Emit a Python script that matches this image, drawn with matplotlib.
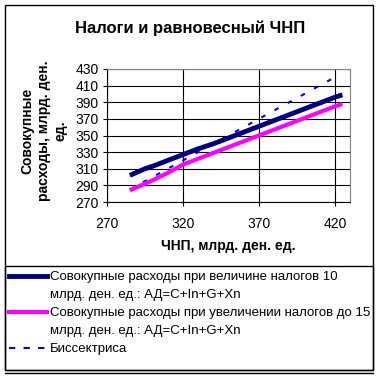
import matplotlib.pyplot as plt
from matplotlib.lines import Line2D
from matplotlib.patches import Rectangle

plt.rcParams['font.family'] = ['Liberation Sans', 'DejaVu Sans']

# data
x_t10 = [285, 290, 295, 300, 310, 320, 330, 340, 350, 360, 370, 380, 390, 400, 410, 420, 425]
y_t10 = [302, 306, 310, 313, 320, 327, 334, 340, 347, 354, 361, 368, 375, 382, 389, 396, 399]
x_t15 = [285, 290, 300, 310, 320, 330, 340, 350, 360, 370, 380, 390, 400, 410, 420, 425]
y_t15 = [284, 288, 296, 305, 315, 322, 329, 336, 343, 350, 357, 364, 371, 378, 385, 388]
x_bis = [285, 300, 320, 340, 360, 380, 400, 420]
y_bis = [285, 300, 320, 340, 360, 380, 400, 420]

title = 'Налоги и равновесный ЧНП'
xlabel = 'ЧНП, млрд. ден. ед.'
ylabel = 'Совокупные\nрасходы, млрд. ден.\nед.'
labels = ['Совокупные расходы при величине налогов 10',
          'млрд. ден. ед.: АД=C+In+G+Xn',
          'Совокупные расходы при увеличении налогов до 15',
          'млрд. ден. ед.: АД=C+In+G+Xn',
          'Биссектриса']
xticks = [270, 320, 370, 420]
yticks = [270, 290, 310, 330, 350, 370, 390, 410, 430]

W, H = 380, 381
fig = plt.figure(figsize=(3.8, 3.81), dpi=100)
ax = fig.add_axes([107 / W, 1 - 202 / H, 243 / W, 133 / H])

ax.plot(x_bis, y_bis, color='#0000FF', lw=1.5, linestyle=(0, (2.2, 5)), zorder=3)
ax.plot(x_t10, y_t10, color='#000080', lw=3.5, solid_capstyle='butt', zorder=4)
ax.plot(x_t15, y_t15, color='#FF00FF', lw=3, solid_capstyle='butt', zorder=4)

ax.set_xlim(270, 430)
ax.set_ylim(270, 430)
ax.set_xticks(xticks)
ax.set_yticks(yticks)
ax.grid(True, color='black', lw=0.8)
ax.set_axisbelow(True)
ax.tick_params(labelsize=10, length=3, width=0.8, color='black', pad=3)
ax.tick_params(axis='x', pad=8)
for s in ['top', 'right']:
    ax.spines[s].set_color('#808080')
for s in ['left', 'bottom']:
    ax.spines[s].set_color('black')
for s in ax.spines.values():
    s.set_linewidth(0.8)

fig.text(190 / W, 1 - 28 / H, title, ha='center', va='center', fontsize=12, fontweight='bold')
fig.text(228 / W, 1 - 246 / H, xlabel, ha='center', va='center', fontsize=10, fontweight='bold')
fig.text(44 / W, 1 - 131 / H, ylabel, ha='center', va='center', fontsize=10,
         fontweight='bold', rotation=90, linespacing=1.2, multialignment='center')

# chart border and legend box
fig.patches.append(Rectangle((5 / W, 1 - 370 / H), 368 / W, 365 / H, transform=fig.transFigure,
                             fill=False, edgecolor='black', lw=1))
fig.patches.append(Rectangle((5 / W, 1 - 370 / H), 368 / W, 104 / H, transform=fig.transFigure,
                             fill=False, edgecolor='black', lw=1))
fig.add_artist(Line2D([5 / W, 373 / W], [1 - 373 / H, 1 - 373 / H], transform=fig.transFigure,
                      color='black', lw=1))

handles = [Line2D([], [], color='#000080', lw=3.5),
           Line2D([], [], color='none'),
           Line2D([], [], color='#FF00FF', lw=3),
           Line2D([], [], color='none'),
           Line2D([], [], color='#0000FF', lw=1.5, linestyle=(0, (3, 4)))]
fig.legend(handles, labels, loc='upper left', bbox_to_anchor=(9 / W, 1 - 271 / H),
           frameon=False, fontsize=9.5, handlelength=2.9, handletextpad=0.2,
           borderpad=0, borderaxespad=0, labelspacing=0.44)

fig.savefig('out.png', dpi=100)
